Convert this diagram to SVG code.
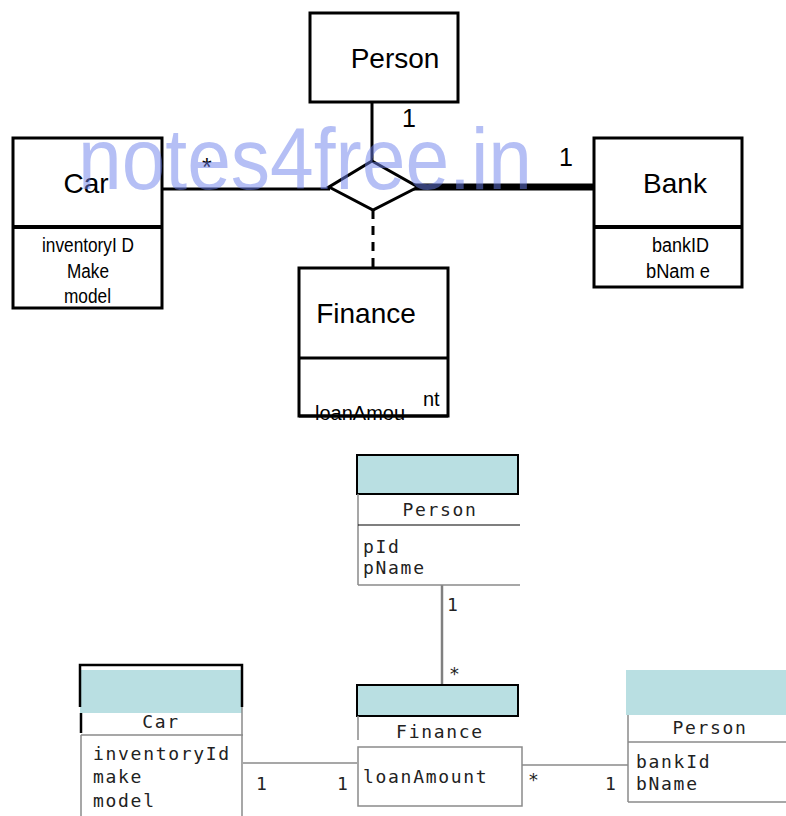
<svg xmlns="http://www.w3.org/2000/svg" width="786" height="816" viewBox="0 0 786 816">
<style>
.box{fill:#fff;stroke:#000;stroke-width:3}
.div{stroke:#000;stroke-width:4}
.t1{font-family:"Liberation Sans",Arial,sans-serif;font-size:28px;fill:#000}
.at{font-family:"Liberation Sans",Arial,sans-serif;font-size:20px;fill:#000}
.lbl{font-family:"Liberation Sans",Arial,sans-serif;font-size:25px;fill:#000}
.mono{font-family:"DejaVu Sans Mono","Liberation Mono",monospace;font-size:18px;fill:#222;letter-spacing:1.7px}
.hdr{fill:#b9dfe2}
.g{stroke:#8a8a8a;stroke-width:1.5;fill:none}
.gc{stroke:#808080;stroke-width:2.5;fill:none}
.k{stroke:#000;fill:none}
.wm{font-family:"Liberation Sans",Arial,sans-serif;font-size:88px;fill:#6c7fec;fill-opacity:0.5}
</style>
<rect width="786" height="816" fill="#fff"/>

<!-- ===== Top ER-style diagram ===== -->
<g id="connectors-top">
  <line x1="372" y1="102" x2="372" y2="161" class="k" stroke-width="3"/>
  <line x1="162" y1="189" x2="330" y2="189" class="k" stroke-width="3"/>
  <line x1="413" y1="187" x2="597" y2="187" class="k" stroke-width="7"/>
  <line x1="373" y1="210" x2="373" y2="268" class="k" stroke-width="3" stroke-dasharray="9,7"/>
  <text x="202" y="176" class="lbl" font-size="22">*</text>
  <text x="402" y="127" class="lbl">1</text>
  <text x="559" y="166" class="lbl">1</text>
</g>

<g id="assoc-diamond">
  <polygon points="372,161 418,187 373,210 329,187" fill="#fff" stroke="#000" stroke-width="3"/>
</g>

<g id="person-top">
  <rect x="310" y="13" width="148" height="89" class="box"/>
  <text x="395" y="68" class="t1" text-anchor="middle">Person</text>
</g>

<g id="car-top">
  <rect x="13" y="138" width="149" height="170" class="box"/>
  <line x1="13" y1="227" x2="162" y2="227" class="div"/>
  <text x="86" y="193" class="t1" text-anchor="middle">Car</text>
  <text x="42" y="252" class="at" textLength="92" lengthAdjust="spacingAndGlyphs">inventoryI D</text>
  <text x="67" y="278" class="at" textLength="42" lengthAdjust="spacingAndGlyphs">Make</text>
  <text x="64" y="303" class="at" textLength="47" lengthAdjust="spacingAndGlyphs">model</text>
</g>

<g id="bank-top">
  <rect x="594" y="138" width="148" height="149" class="box"/>
  <line x1="594" y1="227" x2="742" y2="227" class="div"/>
  <text x="675" y="193" class="t1" text-anchor="middle">Bank</text>
  <text x="652" y="252" class="at" textLength="57" lengthAdjust="spacingAndGlyphs">bankID</text>
  <text x="646" y="278" class="at" textLength="64" lengthAdjust="spacingAndGlyphs">bNam e</text>
</g>

<g id="finance-top">
  <rect x="299" y="268" width="149" height="148" class="box"/>
  <line x1="299" y1="358" x2="448" y2="358" class="k" stroke-width="3"/>
  <text x="366" y="323" class="t1" text-anchor="middle">Finance</text>
  <text x="315" y="420" class="at" font-size="22">loanAmou</text>
  <text x="423" y="406" class="at" font-size="22">nt</text>
  <line x1="299" y1="416" x2="448" y2="416" class="k" stroke-width="3"/>
</g>

<!-- ===== Bottom UML diagram ===== -->
<g id="connectors-bottom">
  <line x1="442" y1="585" x2="442" y2="684" class="gc"/>
  <line x1="243" y1="763" x2="357" y2="763" class="g"/>
  <line x1="522" y1="765" x2="628" y2="765" class="g"/>
  <text x="447" y="611" class="mono">1</text>
  <text x="449" y="680" class="mono" font-size="15">*</text>
  <text x="256" y="790" class="mono">1</text>
  <text x="337" y="790" class="mono">1</text>
  <text x="528" y="786" class="mono" font-size="15">*</text>
  <text x="605" y="790" class="mono">1</text>
</g>

<g id="person-uml">
  <rect x="357" y="455" width="161" height="39" class="hdr" stroke="#000" stroke-width="2"/>
  <line x1="358" y1="494" x2="358" y2="585" class="g" stroke-width="2.5"/>
  <line x1="358" y1="525" x2="520" y2="525" class="k" stroke-width="1.2"/>
  <line x1="358" y1="585" x2="520" y2="585" class="g"/>
  <text x="440" y="516" class="mono" text-anchor="middle">Person</text>
  <text x="363" y="553" class="mono">pId</text>
  <text x="363" y="574" class="mono">pName</text>
</g>

<g id="finance-uml">
  <rect x="357" y="685" width="161" height="31" class="hdr" stroke="#000" stroke-width="2"/>
  <line x1="358" y1="716" x2="358" y2="740" class="g" stroke-width="2.5"/>
  <text x="440" y="738" class="mono" text-anchor="middle">Finance</text>
  <rect x="358" y="747" width="164" height="59" class="g"/>
  <text x="363" y="783" class="mono">loanAmount</text>
</g>

<g id="car-uml">
  <rect x="80" y="670" width="162" height="43" class="hdr"/>
  <path d="M80,707 V665 H242 V707" class="k" stroke-width="2.5"/>
  <line x1="81" y1="713" x2="81" y2="733" class="k" stroke-width="2.5"/>
  <line x1="242" y1="707" x2="242" y2="816" class="g"/>
  <line x1="81" y1="735" x2="81" y2="816" class="g"/>
  <line x1="81" y1="735" x2="243" y2="735" class="g"/>
  <text x="161" y="728" class="mono" text-anchor="middle">Car</text>
  <text x="93" y="760" class="mono">inventoryId</text>
  <text x="93" y="783" class="mono">make</text>
  <text x="93" y="807" class="mono">model</text>
</g>

<g id="bank-uml">
  <rect x="626" y="670" width="160" height="45" class="hdr"/>
  <line x1="628" y1="715" x2="628" y2="802" class="g"/>
  <line x1="628" y1="742" x2="786" y2="742" class="g"/>
  <line x1="628" y1="802" x2="786" y2="802" class="g"/>
  <text x="710" y="734" class="mono" text-anchor="middle">Person</text>
  <text x="636" y="768" class="mono">bankId</text>
  <text x="636" y="790" class="mono">bName</text>
</g>

<g id="watermark">
  <text x="78" y="189" class="wm" textLength="454" lengthAdjust="spacingAndGlyphs">notes4free.in</text>
</g>
</svg>
